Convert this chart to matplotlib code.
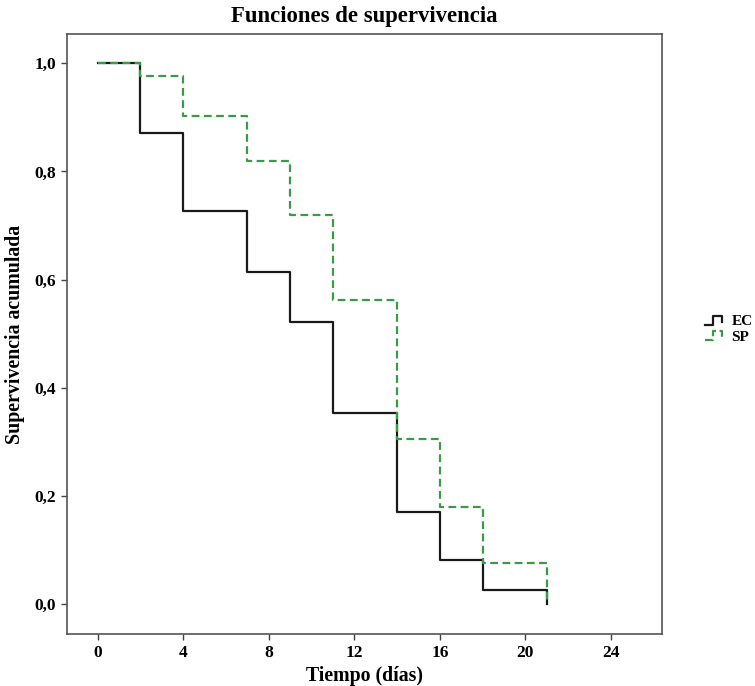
import matplotlib
matplotlib.use('Agg')
import matplotlib.pyplot as plt
from matplotlib.legend_handler import HandlerBase
from matplotlib.lines import Line2D
from matplotlib.ticker import FuncFormatter

plt.rcParams['font.family'] = ['Liberation Serif', 'DejaVu Serif']
plt.rcParams['font.weight'] = 'bold'

# Datos de supervivencia (Kaplan-Meier)
tiempos = [0, 2, 4, 7, 9, 11, 14, 16, 18, 21]
surv_ec = [1.0, 0.871, 0.726, 0.614, 0.522, 0.354, 0.170, 0.082, 0.027, 0.0]
surv_sp = [1.0, 0.976, 0.902, 0.820, 0.720, 0.562, 0.306, 0.179, 0.077, 0.0]
grupos = ['EC', 'SP']
colores = ['#1a1a1a', '#3a9a45']
estilos = ['-', (0, (3.5, 2))]
x_ticks = [0, 4, 8, 12, 16, 20, 24]
y_ticks = [0.0, 0.2, 0.4, 0.6, 0.8, 1.0]


class HandlerEscalon(HandlerBase):
    # dibuja el pequeño escalón de la leyenda
    def create_artists(self, legend, orig, xd, yd, width, height, fontsize, trans):
        xs = [xd, xd + width * 0.45, xd + width * 0.45, xd + width, xd + width]
        ys = [yd + height * 0.05, yd + height * 0.05, yd + height * 0.9,
              yd + height * 0.9, yd + height * 0.3]
        ln = Line2D(xs, ys, color=orig.get_color(), linestyle=orig.get_linestyle(),
                    linewidth=1.6, transform=trans)
        return [ln]


fig = plt.figure(figsize=(7.55, 6.86), dpi=100)
ax = fig.add_axes([0.0887, 0.0758, 0.788, 0.8746])

lineas = []
for surv, col, ls, lab in zip([surv_ec, surv_sp], colores, estilos, grupos):
    ln, = ax.step(tiempos, surv, where='post', color=col, linestyle=ls,
                  linewidth=1.6, label=lab)
    lineas.append(ln)

ax.set_xlim(-1.43, 26.38)
ax.set_ylim(-0.055, 1.054)
ax.set_xticks(x_ticks)
ax.set_yticks(y_ticks)
ax.yaxis.set_major_formatter(FuncFormatter(lambda v, p: f'{v:.1f}'.replace('.', ',')))
ax.tick_params(direction='out', length=4, width=1, colors='#444444',
               labelcolor='black', labelsize=12.5, top=False, right=False, pad=4)
for lab in ax.get_xticklabels() + ax.get_yticklabels():
    lab.set_fontweight('bold')
for s in ax.spines.values():
    s.set_color('#555555')
    s.set_linewidth(1.2)

ax.set_title('Funciones de supervivencia', fontsize=16.4, fontweight='bold', pad=9)
ax.set_xlabel('Tiempo (días)', fontsize=14.3, fontweight='bold')
ax.set_ylabel('Supervivencia acumulada', fontsize=14.3, fontweight='bold')
ax.xaxis.set_label_coords(0.5, -0.054)
ax.yaxis.set_label_coords(-0.07, 0.5)

leg = ax.legend(handles=lineas, labels=grupos, loc='center left',
                bbox_to_anchor=(1.05, 0.508), frameon=False, fontsize=11,
                handlelength=1.1, handletextpad=0.6, labelspacing=0.1,
                handler_map={Line2D: HandlerEscalon()})
for t in leg.get_texts():
    t.set_fontweight('bold')

fig.savefig('out.png', dpi=100)
